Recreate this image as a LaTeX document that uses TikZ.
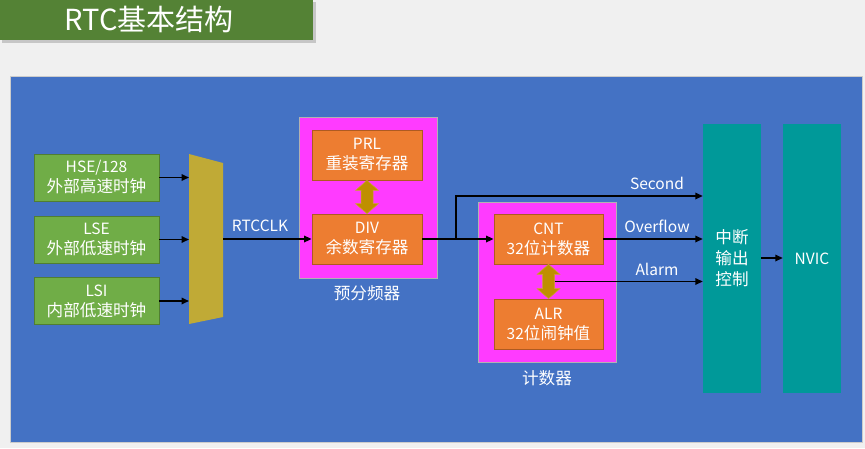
\documentclass[tikz,border=0pt]{standalone}
\usepackage{fontspec}
\setmainfont{Noto Sans CJK SC}
\usetikzlibrary{arrows.meta,calc}
\definecolor{bgc}{HTML}{F0F0F0}
\definecolor{titlegreen}{HTML}{548235}
\definecolor{panelblue}{HTML}{4472C4}
\definecolor{boxgreen}{HTML}{70AD47}
\definecolor{boxgreenedge}{HTML}{507E32}
\definecolor{boxorange}{HTML}{ED7D31}
\definecolor{boxorangeedge}{HTML}{AE5A21}
\definecolor{pinkc}{HTML}{FF3BFF}
\definecolor{tealc}{HTML}{009999}
\definecolor{muxc}{HTML}{C0AA36}
\definecolor{dgold}{HTML}{BF8F00}
\newcommand\zh[1]{{\fontsize{16.6}{20}\selectfont #1}}
\tikzset{
  txt/.style={text=white,font=\fontsize{15.5}{20}\selectfont,align=center,inner sep=0pt},
  greenbox/.style={txt,fill=boxgreen,draw=boxgreenedge,line width=0.8pt,minimum width=125pt,minimum height=47pt},
  orangebox/.style={txt,fill=boxorange,draw=boxorangeedge,line width=0.8pt,minimum width=110pt,minimum height=50pt},
  pinkbox/.style={fill=pinkc,draw=gray!60,line width=0.5pt,minimum width=138pt,minimum height=160pt,inner sep=0pt},
  tealbox/.style={txt,fill=tealc,minimum width=58pt,minimum height=269pt},
  lbl/.style={txt},
  arr/.style={line width=1.6pt,-{Triangle[length=7.5pt,width=6.5pt]}},
}
\begin{document}
\begin{tikzpicture}[x=1pt,y=-1pt]
\useasboundingbox (0,0) rectangle (865,448);
\fill[bgc] (0,0) rectangle (865,448);
% title
\fill[gray!45] (2,2) rectangle (316,43);
\fill[titlegreen] (0,0) rectangle (313,40);
\node[text=white,font=\fontsize{29}{32}\selectfont,inner sep=0pt] (title) at (149,19) {RTC基本结构};
% panel
\fill[panelblue] (10,76) rectangle (862,442);
\draw[gray!40,line width=0.6pt] (10,76) rectangle (862,442);
% sources
\node[greenbox] (hse) at (96.5,177.5) {HSE/128\\\zh{外部高速时钟}};
\node[greenbox] (lse) at (96.5,239.5) {LSE\\\zh{外部低速时钟}};
\node[greenbox] (lsi) at (96.5,301) {LSI\\\zh{内部低速时钟}};
% mux
\fill[muxc] (189,154) -- (223,163) -- (223,317) -- (189,324) -- cycle;
\coordinate (muxl) at (189,239);
\coordinate (muxr) at (223,239);
\draw[arr] (hse.east) -- (hse.east -| muxl);
\draw[arr] (lse.east) -- (lse.east -| muxl);
\draw[arr] (lsi.east) -- (lsi.east -| muxl);
% prescaler
\node[pinkbox] (pre) at (368,197.5) [minimum height=161pt] {};
\node[orangebox] (prl) at (367,155) {PRL\\\zh{重装寄存器}};
\node[orangebox] (div) at (367,239) {DIV\\\zh{余数寄存器}};
\node[lbl] (prelbl) at (367,293) {\zh{预分频器}};
% counter
\node[pinkbox] (cntgrp) at (547,282) {};
\node[orangebox,minimum width=109pt] (cnt) at (548.5,239) {CNT\\32\zh{位计数器}};
\node[orangebox,minimum width=109pt] (alr) at (548.5,324) {ALR\\32\zh{位闹钟值}};
\node[lbl] (cntlbl) at (547,378) {\zh{计数器}};
% interrupt and NVIC
\node[tealbox,font=\fontsize{16.6}{21}\selectfont] (intc) at (732,258.5) {中断\\输出\\控制};
\node[tealbox] (nvic) at (812,258.5) {NVIC};
% double arrows
\coordinate (t1) at (prl.south); \coordinate (b1) at (div.north);
\fill[dgold,draw=dgold!80!white,line width=0.5pt] (t1) -- ($(t1)+(11.5,10)$) -- ($(t1)+(6,10)$) -- ($(b1)+(6,-10)$) -- ($(b1)+(11.5,-10)$) -- (b1) -- ($(b1)+(-11.5,-10)$) -- ($(b1)+(-6,-10)$) -- ($(t1)+(-6,10)$) -- ($(t1)+(-11.5,10)$) -- cycle;
\coordinate (t2) at (cnt.south); \coordinate (b2) at (alr.north);
\fill[dgold,draw=dgold!80!white,line width=0.5pt] (t2) -- ($(t2)+(11.5,10)$) -- ($(t2)+(6,10)$) -- ($(b2)+(6,-10)$) -- ($(b2)+(11.5,-10)$) -- (b2) -- ($(b2)+(-11.5,-10)$) -- ($(b2)+(-6,-10)$) -- ($(t2)+(-6,10)$) -- ($(t2)+(-11.5,10)$) -- cycle;
\coordinate (alarmstart) at ($(t2)!0.5!(b2)+(6,0)$);
% connectors
\draw[arr] (muxr) -- (div.west);
\node[lbl] (rtcclk) at (260,226) {RTCCLK};
\draw[arr] (div.east) -- (cnt.west);
\coordinate (br) at (456,239);
\draw[arr] (br) -- (456,196) -- (intc.west |- 0,196);
\draw[arr] (cnt.east) -- (cnt.east -| intc.west);
\draw[arr] (alarmstart) -- (alarmstart -| intc.west);
\node[lbl] (lsec) at (657,183) {Second};
\node[lbl] (lovf) at (657,226) {Overflow};
\node[lbl] (lalm) at (657,269) {Alarm};
\draw[arr] (intc.east |- 0,258) -- (nvic.west |- 0,258);
\end{tikzpicture}
\end{document}
